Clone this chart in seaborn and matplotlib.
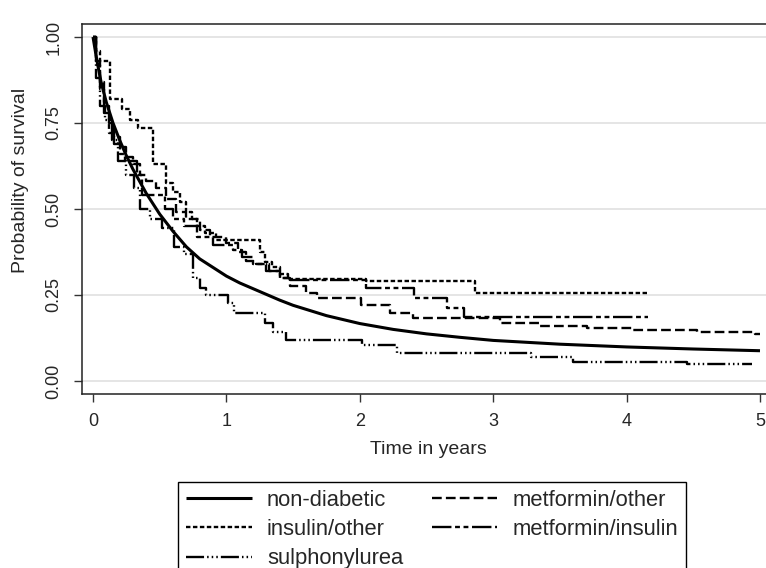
import matplotlib
matplotlib.use("Agg")
import matplotlib.pyplot as plt
import seaborn as sns
import pandas as pd

# Data (Kaplan-Meier estimates)
nondiab_t = [0, 0.03, 0.06, 0.1, 0.15, 0.2, 0.25, 0.3, 0.4, 0.5, 0.6, 0.7, 0.8, 0.9, 1.0, 1.1, 1.25, 1.4,
             1.5, 1.75, 2.0, 2.25, 2.5, 2.75, 3.0, 3.5, 4.0, 4.5, 5.0]
nondiab_s = [1.0, 0.93, 0.87, 0.81, 0.75, 0.70, 0.655, 0.615, 0.545, 0.485, 0.435, 0.39, 0.355, 0.33, 0.305,
             0.285, 0.26, 0.235, 0.22, 0.19, 0.167, 0.15, 0.137, 0.127, 0.118, 0.107, 0.099, 0.093, 0.088]

insulin_t = [0, 0.02, 0.05, 0.13, 0.22, 0.28, 0.34, 0.45, 0.55, 0.60, 0.65, 0.70, 0.74, 0.78, 0.84, 0.92,
             1.25, 1.29, 1.34, 1.40, 1.46, 2.05, 2.86, 4.16]
insulin_s = [1.0, 0.96, 0.93, 0.82, 0.79, 0.76, 0.735, 0.63, 0.575, 0.55, 0.52, 0.49, 0.47, 0.45, 0.43, 0.41,
             0.375, 0.345, 0.33, 0.31, 0.297, 0.29, 0.256, 0.256]

metoth_t = [0, 0.02, 0.05, 0.08, 0.12, 0.16, 0.2, 0.25, 0.3, 0.35, 0.4, 0.47, 0.55, 0.62, 0.7, 0.8, 0.88,
            1.0, 1.09, 1.15, 1.22, 1.32, 1.4, 1.48, 1.6, 1.68, 2.01, 2.23, 2.4, 3.05, 3.34, 3.7, 4.05, 4.53,
            4.96, 5.0]
metoth_s = [1.0, 0.93, 0.87, 0.80, 0.75, 0.71, 0.68, 0.65, 0.63, 0.60, 0.58, 0.56, 0.53, 0.49, 0.47, 0.44,
            0.42, 0.40, 0.375, 0.35, 0.34, 0.32, 0.30, 0.275, 0.255, 0.24, 0.22, 0.197, 0.183, 0.168, 0.16,
            0.154, 0.148, 0.143, 0.136, 0.136]

metins_t = [0, 0.02, 0.05, 0.08, 0.12, 0.16, 0.2, 0.24, 0.33, 0.37, 0.54, 0.6, 0.68, 0.78, 0.9, 1.05, 1.12,
            1.2, 1.3, 1.4, 1.48, 2.05, 2.41, 2.65, 2.78, 4.16]
metins_s = [1.0, 0.92, 0.85, 0.78, 0.72, 0.69, 0.66, 0.64, 0.6, 0.54, 0.5, 0.47, 0.45, 0.42, 0.395, 0.38,
            0.36, 0.34, 0.32, 0.30, 0.294, 0.27, 0.24, 0.213, 0.187, 0.187]

sulph_t = [0, 0.02, 0.05, 0.09, 0.14, 0.19, 0.25, 0.31, 0.35, 0.43, 0.52, 0.61, 0.68, 0.75, 0.8, 0.85, 1.01,
           1.06, 1.29, 1.35, 1.45, 2.02, 2.28, 3.28, 3.6, 4.45, 4.94]
sulph_s = [1.0, 0.88, 0.8, 0.76, 0.7, 0.64, 0.6, 0.56, 0.5, 0.47, 0.445, 0.39, 0.37, 0.30, 0.27, 0.25, 0.226,
           0.197, 0.17, 0.142, 0.12, 0.105, 0.08, 0.07, 0.055, 0.05, 0.05]

sns.set_style("white")
plt.rcParams['font.family'] = ['Liberation Sans', 'DejaVu Sans']
plt.rcParams['lines.scale_dashes'] = False

fig = plt.figure(figsize=(7.66, 5.68), dpi=100)
ax = fig.add_axes([82 / 766, 1 - 394 / 568, 688 / 766, 370 / 568])

ax.grid(axis='y', color='#dedede', lw=1.1)
ax.set_axisbelow(True)

# series: label, times, survival, linewidth, dash pattern (None = solid), step drawing
series = [
    ("non-diabetic", nondiab_t, nondiab_s, 2.2, None, False),
    ("insulin/other", insulin_t, insulin_s, 1.7, (3.2, 1.8), True),
    ("sulphonylurea", sulph_t, sulph_s, 1.7, (13, 2.2, 1.1, 2.2, 1.1, 2.2, 1.1, 2.2), True),
    ("metformin/other", metoth_t, metoth_s, 1.7, (7, 3), True),
    ("metformin/insulin", metins_t, metins_s, 1.7, (14, 2.6, 3.5, 2.6, 3.5, 2.6), True),
]

handles = []
for label, t, s, lw, dash, step in series:
    df = pd.DataFrame({"t": t, "s": s})
    sns.lineplot(data=df, x="t", y="s", ax=ax, color='black', lw=lw, estimator=None, sort=False,
                 drawstyle='steps-post' if step else 'default', label=label)
    line = ax.lines[-1]
    if dash is not None:
        line.set_dashes(dash)
    line.set_solid_capstyle('butt')
    handles.append(line)

ax.set_xlim(-0.0825, 5.075)
ax.set_ylim(-0.0378, 1.0378)
ax.set_xticks([0, 1, 2, 3, 4, 5])
ax.set_yticks([0, 0.25, 0.5, 0.75, 1.0])
ax.set_yticklabels(["0.00", "0.25", "0.50", "0.75", "1.00"], rotation=90, va='center')
ax.tick_params(axis='both', which='major', labelsize=13, length=6, width=1, color='#333333',
               pad=8, bottom=True, left=True, direction='out')

for sp in ax.spines.values():
    sp.set_color('#222222')
    sp.set_linewidth(1.1)

ax.set_xlabel("Time in years", fontsize=14, va='center')
ax.set_ylabel("Probability of survival", fontsize=14, va='center')
ax.xaxis.set_label_coords(0.504, -0.149)
ax.yaxis.set_label_coords(-0.09, 0.576)

ax.legend_.remove()
fig.legend(handles, [h.get_label() for h in handles], ncol=2, loc='upper left',
           bbox_to_anchor=(178 / 766, 1 - 482 / 568), borderaxespad=0, fontsize=15.8,
           frameon=True, fancybox=False, edgecolor='black', framealpha=1,
           handlelength=3.0, handletextpad=0.7, columnspacing=1.3, labelspacing=0.38,
           borderpad=0.35)

fig.savefig("out.png", dpi=100)
